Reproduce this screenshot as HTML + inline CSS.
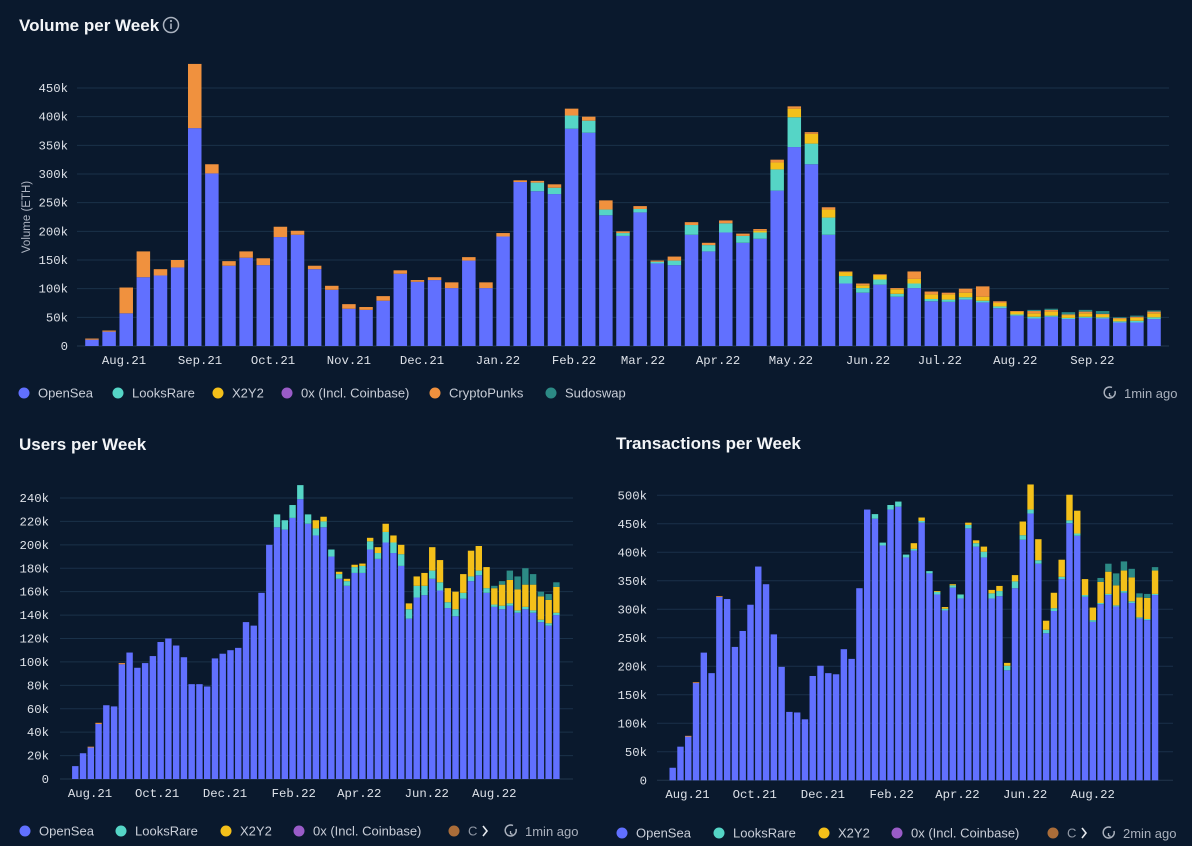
<!DOCTYPE html>
<html><head><meta charset="utf-8">
<style>
html,body{margin:0;padding:0;background:#0a192d;}
svg{display:block;}
.tick{font-family:"Liberation Mono",monospace;font-size:12.3px;fill:#dde1e8;}
.leg{font-family:"Liberation Sans",sans-serif;font-size:13px;fill:#c9ced8;}
.title{font-family:"Liberation Sans",sans-serif;font-size:17px;font-weight:bold;fill:#f3f5f8;}
</style></head>
<body>
<svg id="root" width="1192" height="846" viewBox="0 0 1192 846" xmlns="http://www.w3.org/2000/svg">
<rect x="0" y="0" width="1192" height="846" fill="#0a192d"/>
<text class="title" x="19" y="31">Volume per Week</text>
<g><circle cx="171" cy="25" r="7.5" fill="none" stroke="#aab2bf" stroke-width="1.5"/><circle cx="171" cy="21" r="1.1" fill="#aab2bf"/><rect x="170.2" y="23.5" width="1.6" height="5.5" fill="#aab2bf"/></g>
<text transform="translate(30,217) rotate(-90)" text-anchor="middle" style="font-family:'Liberation Sans',sans-serif;font-size:11.5px;fill:#aeb5c2">Volume (ETH)</text>
<text class="title" x="19" y="450">Users per Week</text>
<text class="title" x="616" y="449">Transactions per Week</text>
<g id="vol"></g>
<g id="usr"></g>
<g id="txs"></g>
<g id="legends"></g>
</svg>
<script>
// ---- Volume per week (k ETH) ----
const volOpenSea=[11,25,57,120,123,137,380,301,140,154,141,190,194,134,98,65,63,79,126,112,115,101,149,101,191,286,270,265,379,372,228,192,233,144,141,194,165,198,180,187,271,347,317,194,109,93,107,86,101,78,77,81,76,66,53,48,51,47,49,48,41,41,47];
const volLooksRare=[0,0,0,0,0,0,0,0,0,0,0,0,0,0,0,0,0,0,0,0,0,0,0,0,0,0,15,11,23,21,10,5,6,3,8,17,11,16,12,11,37,52,36,30,13,8,9,5,8,4,4,4,3,3,2,3,2,2,2,2,2,3,3];
const volX2Y2=[0,0,0,0,0,0,0,0,0,0,0,0,0,0,0,0,0,0,0,0,0,0,0,0,0,0,0,0,0,0,0,0,0,0,0,0,0,0,0,3,12,15,17,14,7,5,8,8,8,8,9,8,7,6,5,6,7,5,6,5,4,5,7];
const volZeroX=new Array(63).fill(0);
const volCryptoPunks=[2,2,45,45,11,13,112,16,8,11,12,18,7,6,7,8,5,8,6,3,5,10,6,10,6,3,3,6,12,7,16,3,5,2,7,5,4,5,4,3,5,4,3,4,1,3,1,2,13,5,3,7,18,3,1,4,3,1,3,1,2,2,3];
const volSudoswap=[0,0,0,0,0,0,0,0,0,0,0,0,0,0,0,0,0,0,0,0,0,0,0,0,0,0,0,0,0,0,0,0,0,0,0,0,0,0,0,0,0,0,0,0,0,0,0,0,0,0,0,0,0,0,0,2,2,4,3,5,1,2,2];
const volTicks=[0,50,100,150,200,250,300,350,400,450];
const volMonths=["Aug.21","Sep.21","Oct.21","Nov.21","Dec.21","Jan.22","Feb.22","Mar.22","Apr.22","May.22","Jun.22","Jul.22","Aug.22","Sep.22"];
const volMonthWeek=[2.37,6.81,11.07,15.5,19.77,24.2,28.64,32.67,37.05,41.3,45.8,50.0,54.4,58.9];
// ---- Users per week (k) ----
const usrOpenSea=[11,22,27,47,63,62,98,108,95,99,105,117,120,114,104,81,81,79,103,107,110,112,134,131,159,200,215,213,223,239,218,208,215,190,171,165,176,176,196,188,202,193,182,137,155,157,171,161,146,139,154,169,174,159,147,145,148,142,145,142,134,131,140];
const usrLooksRare=[0,0,0,0,0,0,0,0,0,0,0,0,0,0,0,0,0,0,0,0,0,0,0,0,0,0,11,8,11,12,8,6,5,6,4,4,5,6,7,5,9,9,10,8,10,8,7,7,5,6,5,4,4,4,2,3,2,2,2,2,2,2,2];
const usrX2Y2=[0,0,0,0,0,0,0,0,0,0,0,0,0,0,0,0,0,0,0,0,0,0,0,0,0,0,0,0,0,0,0,7,4,0,2,2,2,2,3,5,7,6,8,5,8,11,20,19,12,15,16,22,21,18,14,18,20,18,19,22,20,20,22];
const usrZeroX=new Array(63).fill(0);
const usrCryptoPunks=[0,0,0.6,1,0,0,1,0,0,0,0,0,0,0,0,0,0,0,0,0,0,0,0,0,0,0,0,0,0,0,0,0,0,0,0,0,0,0,0,0,0,0,0,0,0,0,0,0,0,0,0,0,0,0,0,0,0,0,0,0,0,0,0];
const usrSudoswap=[0,0,0,0,0,0,0,0,0,0,0,0,0,0,0,0,0,0,0,0,0,0,0,0,0,0,0,0,0,0,0,0,0,0,0,0,0,0,0,0,0,0,0,0,0,0,0,0,0,0,0,0,0,0,2,3,8,11,14,9,4,5,4];
const usrTicks=[0,20,40,60,80,100,120,140,160,180,200,220,240];
// ---- Transactions per week (k) ----
const txOpenSea=[22,59,77,171,224,188,322,318,234,262,308,375,344,256,199,120,119,107,183,201,188,186,230,213,337,475,459,412,475,480,391,403,452,363,326,298,338,319,442,410,391,319,323,193,337,422,468,380,258,297,353,451,429,322,278,309,325,305,329,311,284,281,325];
const txLooksRare=[0,0,0,0,0,0,0,0,0,0,0,0,0,0,0,0,0,0,0,0,0,0,0,0,0,0,8,5,8,9,5,3,3,4,5,3,4,7,6,6,10,9,9,8,12,8,7,6,6,5,4,5,4,3,3,2,2,2,3,3,2,2,2];
const txX2Y2=[0,0,0,0,0,0,0,0,0,0,0,0,0,0,0,0,0,0,0,0,0,0,0,0,0,0,0,0,0,0,0,10,6,0,1,3,2,0,4,5,9,6,9,5,11,24,44,37,16,27,30,45,40,28,22,37,39,35,36,42,35,37,41];
const txZeroX=new Array(63).fill(0);
const txCryptoPunks=[0,0,1,1,0,0,1,0,0,0,0,0,0,0,0,0,0,0,0,0,0,0,0,0,0,0,0,0,0,0,0,0,0,0,0,0,0,0,0,0,0,0,0,0,0,0,0,0,0,0,0,0,0,0,0,0,0,0,0,0,0,0,0];
const txSudoswap=[0,0,0,0,0,0,0,0,0,0,0,0,0,0,0,0,0,0,0,0,0,0,0,0,0,0,0,0,0,0,0,0,0,0,0,0,0,0,0,0,0,0,0,0,0,0,0,0,0,0,0,0,0,0,0,7,14,21,16,15,7,7,6];
const txTicks=[0,50,100,150,200,250,300,350,400,450,500];
const bottomMonths=["Aug.21","Oct.21","Dec.21","Feb.22","Apr.22","Jun.22","Aug.22"];
const bottomMonthWeek=[2.4,11.05,19.8,28.65,37.1,45.8,54.5];
const seriesNames=["OpenSea","LooksRare","X2Y2","0x (Incl. Coinbase)","CryptoPunks","Sudoswap"];
const seriesColors=["#6170ff","#55d5c6","#f4c01a","#9a5cc8","#f0913e","#2c8a85"];

const NS="http://www.w3.org/2000/svg";
function mk(tag,attrs,parent){const e=document.createElementNS(NS,tag);for(const k in attrs)e.setAttribute(k,attrs[k]);parent.appendChild(e);return e;}

function drawChart(g,cfg,series,ticks,months,monthWeek,prefix){
  const yScale=v=>cfg.y0-v*cfg.k;
  const xBand=i=>cfg.x0+i*cfg.band;
  ticks.forEach(t=>{
    const y=yScale(t);
    const ln=mk('line',{x1:cfg.gx1,x2:cfg.gx2,y1:y,y2:y,stroke:t===0?'#22364d':'#1a3149','stroke-width':1},g);
    
    
    const tx=mk('text',{x:cfg.lx,y:y+4,'text-anchor':'end',class:'tick'},g);
    tx.textContent=t===0?'0':t+'k';
    
    
  });
  const n=series[0].length;
  for(let i=0;i<n;i++){
    let acc=0;
    const cx=xBand(i+0.5);
    series.forEach((arr,s)=>{
      const v=arr[i];if(!v)return;
      const yTop=yScale(acc+v),yBot=yScale(acc);acc+=v;
      const r=mk('rect',{x:cx-cfg.bw/2,y:yTop,width:cfg.bw,height:Math.max(0.8,yBot-yTop),fill:seriesColors[s]},g);
      
      
    });
  }
  months.forEach((m,j)=>{
    const tx=mk('text',{x:xBand(monthWeek[j]),y:cfg.xly,'text-anchor':'middle',class:'tick'},g);
    tx.textContent=m;
    
    
  });
}
drawChart(document.getElementById('vol'),{x0:83.4,band:17.13,y0:346,k:258/450,bw:13.5,gx1:77,gx2:1169,lx:68,xly:364},
  [volOpenSea,volLooksRare,volX2Y2,volZeroX,volCryptoPunks,volSudoswap],volTicks,volMonths,volMonthWeek,'volume');
drawChart(document.getElementById('usr'),{x0:71.4,band:7.76,y0:779,k:281/240,bw:6.4,gx1:60,gx2:573,lx:49,xly:797},
  [usrOpenSea,usrLooksRare,usrX2Y2,usrZeroX,usrCryptoPunks,usrSudoswap],usrTicks,bottomMonths,bottomMonthWeek,'users');
drawChart(document.getElementById('txs'),{x0:668.8,band:7.78,y0:780.3,k:285/500,bw:6.4,gx1:657,gx2:1173,lx:647,xly:798},
  [txOpenSea,txLooksRare,txX2Y2,txZeroX,txCryptoPunks,txSudoswap],txTicks,bottomMonths,bottomMonthWeek,'transactions');

const L=document.getElementById('legends');
function legend(items,y,prefix){
  items.forEach(it=>{
    const c=mk('circle',{cx:it.x,cy:y,r:5.5,fill:seriesColors[it.s],opacity:it.o||1},L);
    
    
    const t=mk('text',{x:it.x+14,y:y+4.5,class:'leg',opacity:it.o||1},L);
    t.textContent=it.t||seriesNames[it.s];
    
    
  });
}
function stamp(x,y,label,prefix){
  const g=mk('g',{},L);
  
  
  mk('path',{d:`M${x+10} ${y-2} A5.5 5.5 0 1 1 ${x+7} ${y-5.5}`,fill:'none',stroke:'#aab1bd','stroke-width':1.5},g);
  mk('path',{d:`M${x+4.5} ${y} L${x+4.5} ${y+2.5} L${x+6.5} ${y+3.5}`,fill:'none',stroke:'#aab1bd','stroke-width':1.3},g);
  const t=mk('text',{x:x+19,y:y+5,class:'leg',style:'fill:#a9b0bc'},g);
  t.textContent=label;
}
legend([{x:24,s:0},{x:118,s:1},{x:218,s:2},{x:287,s:3},{x:435,s:4},{x:551,s:5}],393,'volume');
stamp(1105,393,'1min ago','volume');
legend([{x:25,s:0},{x:121,s:1},{x:226,s:2},{x:299,s:3},{x:454,s:4,t:'C',o:0.7}],831,'users');
stamp(506,831,'1min ago','users');
legend([{x:622,s:0},{x:719,s:1},{x:824,s:2},{x:897,s:3},{x:1053,s:4,t:'C',o:0.7}],833,'transactions');
stamp(1104,833,'2min ago','transactions');
[[483,831],[1082,833]].forEach(p=>{
  const a=mk('path',{d:`M${p[0]} ${p[1]-5} L${p[0]+4} ${p[1]} L${p[0]} ${p[1]+5}`,fill:'none',stroke:'#e6e9ee','stroke-width':1.6},L);
  
  
});
</script>
</body></html>
